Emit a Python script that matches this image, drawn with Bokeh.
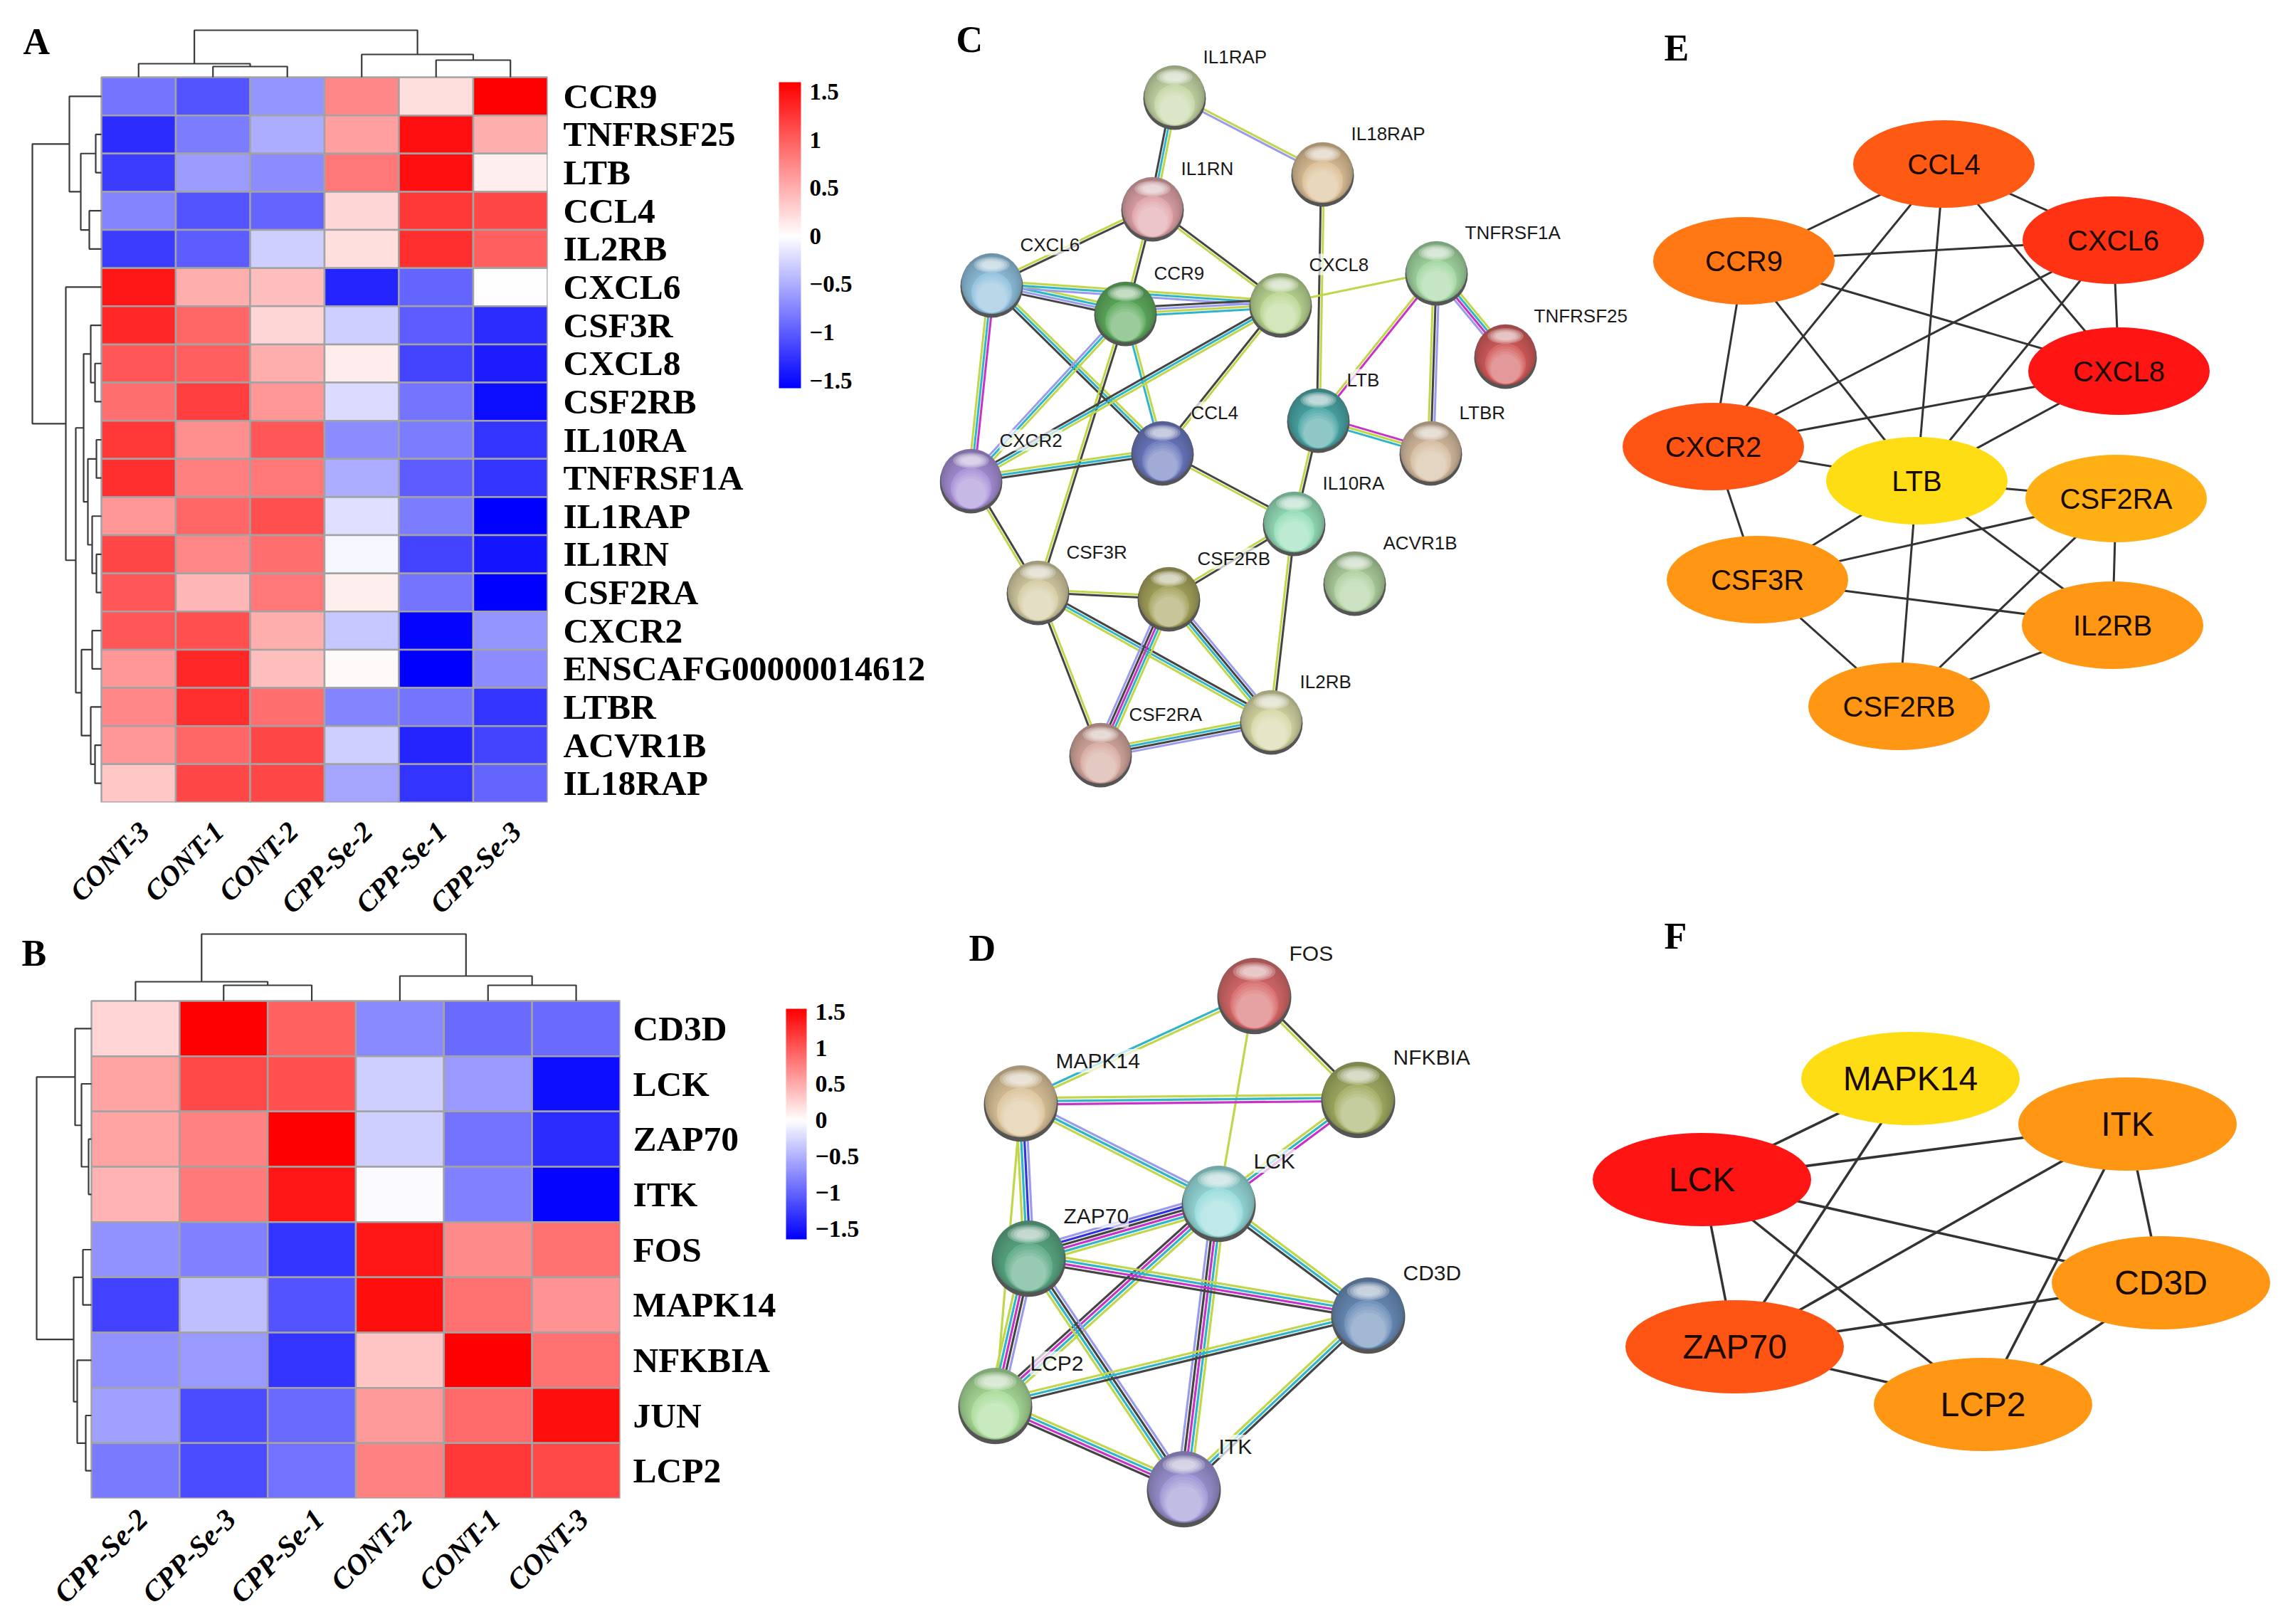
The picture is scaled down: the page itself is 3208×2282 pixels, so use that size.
from bokeh.plotting import figure
from bokeh.layouts import column, row
from bokeh.models import Range1d, LinearAxis, FixedTicker, LinearColorMapper, ColorBar
from bokeh.core.properties import value
from bokeh.transform import transform
from bokeh.embed import file_html
from bokeh.resources import INLINE
import math

# ---------- Heatmap A data ----------
a_rows = ["CCR9","TNFRSF25","LTB","CCL4","IL2RB","CXCL6","CSF3R","CXCL8","CSF2RB","IL10RA","TNFRSF1A",
          "IL1RAP","IL1RN","CSF2RA","CXCR2","ENSCAFG00000014612","LTBR","ACVR1B","IL18RAP"]
a_cols = ["CONT-3","CONT-1","CONT-2","CPP-Se-2","CPP-Se-1","CPP-Se-3"]
a_vals = [
 [-0.85,-1.05,-0.65,0.75,0.2,1.6],
 [-1.3,-0.8,-0.5,0.6,1.5,0.5],
 [-1.2,-0.6,-0.7,0.85,1.5,0.1],
 [-0.75,-1.05,-0.95,0.25,1.25,1.15],
 [-1.2,-1.0,-0.3,0.2,1.3,1.0],
 [1.45,0.5,0.4,-1.35,-0.95,0.0],
 [1.35,0.95,0.25,-0.3,-1.0,-1.3],
 [1.05,1.0,0.5,0.12,-1.15,-1.4],
 [0.9,1.2,0.65,-0.22,-0.85,-1.5],
 [1.25,0.7,1.05,-0.7,-0.8,-1.25],
 [1.3,0.8,0.85,-0.5,-1.0,-1.25],
 [0.65,0.95,1.1,-0.2,-0.8,-1.6],
 [1.15,0.75,0.9,-0.05,-1.15,-1.45],
 [1.05,0.45,0.85,0.1,-0.85,-1.6],
 [1.05,1.1,0.5,-0.35,-1.55,-0.65],
 [0.65,1.35,0.4,0.03,-1.6,-0.7],
 [0.75,1.3,0.9,-0.75,-0.85,-1.25],
 [0.65,0.95,1.15,-0.3,-1.35,-1.15],
 [0.35,1.15,1.15,-0.55,-1.25,-0.95],
]
# merge trees: (height, left, right); leaves are row/column indices
a_row_tree = (97,
  (45, 0, (29, (8, 1, 2), (17, 3, 4))),
  (50, 5, (36,
     (25, (15, 6, (9, 7, 8)), (19, (7, 9, 10), (13, 11, (7, 12, 13)))),
     (28, (13, 14, 15), (15, 16, (9, 17, 18))))))
a_col_tree = (66, (19, 0, (15, 1, 2)), (32, 3, (24, 4, 5)))

# ---------- Heatmap B data ----------
b_rows = ["CD3D","LCK","ZAP70","ITK","FOS","MAPK14","NFKBIA","JUN","LCP2"]
b_cols = ["CPP-Se-2","CPP-Se-3","CPP-Se-1","CONT-2","CONT-1","CONT-3"]
b_vals = [
 [0.25,1.6,0.95,-0.75,-0.95,-0.95],
 [0.55,1.1,1.05,-0.3,-0.65,-1.55],
 [0.55,0.75,1.55,-0.3,-0.9,-1.35],
 [0.45,0.8,1.4,-0.03,-0.8,-1.6],
 [-0.7,-0.8,-1.3,1.4,0.7,0.85],
 [-1.2,-0.4,-1.1,1.45,0.85,0.65],
 [-0.7,-0.65,-1.3,0.35,1.6,0.85],
 [-0.6,-1.15,-0.95,0.6,0.9,1.45],
 [-0.85,-1.15,-0.9,0.75,1.2,1.1],
]
b_row_tree = (77, (23, 0, (14, 1, (4, 2, 3))),
              (25, (12, 4, 5), (20, 6, (8, 7, 8))))
b_col_tree = (94, (27, 0, (22, 1, 2)), (35, 3, (22, 4, 5)))

cbar_ticks = [-1.5,-1,-0.5,0,0.5,1,1.5]
cbar_labels = ["\u22121.5","\u22121","\u22120.5","0","0.5","1","1.5"]

# ---------- Network C ----------
c_names = ["IL1RAP","IL18RAP","IL1RN","CXCL6","CCR9","CXCL8","TNFRSF1A","TNFRSF25","LTB","LTBR","CCL4","CXCR2",
           "IL10RA","ACVR1B","CSF3R","CSF2RB","IL2RB","CSF2RA"]
c_x = [1650,1858,1619,1393,1581,1799,2018,2115,1852,2010,1633,1364,1818,1903,1458,1642,1786,1546]
c_y = [134,242,291,398,438,426,381,498,588,634,634,673,733,817,830,839,1012,1058]
c_col = ["#c5d6a5","#dcbf96","#dfa3a8","#8fc0dd","#5eab5e","#bad792","#a2d6a0","#d25c5c","#4ba6a6","#d4bb9e",
         "#6a78bd","#a68fd6","#94deb8","#aed09d","#d4cba2","#a5a35c","#d6d8a5","#d5a89d"]
c_edges = [("IL1RAP","IL18RAP","yp"),("IL1RAP","IL1RN","yck"),("IL1RN","CXCL6","ky"),("IL1RN","CCR9","ky"),
 ("IL1RN","CXCL8","ky"),("IL18RAP","LTB","yk"),("CXCL6","CCR9","ycpk"),("CXCL6","CXCL8","ycp"),("CCR9","CXCL8","kpyc"),
 ("CXCL6","CXCR2","mcy"),("CXCL6","CCL4","yck"),("CCR9","CCL4","yc"),("CCR9","CXCR2","ycp"),("CCR9","CSF3R","ky"),
 ("CXCL8","CXCR2","yck"),("CXCL8","CCL4","yk"),("CXCL8","TNFRSF1A","y"),("TNFRSF1A","TNFRSF25","ycmp"),
 ("TNFRSF1A","LTB","my"),("TNFRSF1A","LTBR","pky"),("LTB","LTBR","myc"),("LTB","IL10RA","ky"),("CCL4","CXCR2","kcy"),
 ("CCL4","IL10RA","ky"),("CXCR2","CSF3R","ky"),("IL10RA","CSF2RB","ky"),("IL10RA","IL2RB","ky"),("CSF3R","CSF2RB","yk"),
 ("CSF3R","CSF2RA","yk"),("CSF3R","IL2RB","kcy"),("CSF2RB","CSF2RA","ycmkp"),("CSF2RB","IL2RB","pkcy"),("CSF2RA","IL2RB","yckp")]

# ---------- Network D ----------
d_names = ["FOS","MAPK14","NFKBIA","LCK","ZAP70","CD3D","LCP2","ITK"]
d_x = [1762,1434,1908,1712,1445,1922,1398,1663]
d_y = [1396,1547,1542,1688,1765,1845,1972,2089]
d_col = ["#d86a6a","#dcc49a","#a3ad62","#98dcdc","#5aa884","#6a8cb8","#a8dc98","#9c94d4"]
d_edges = [("FOS","MAPK14","yc"),("FOS","NFKBIA","ky"),("FOS","LCK","y"),("MAPK14","NFKBIA","ycm"),("MAPK14","LCK","pcy"),
 ("MAPK14","ZAP70","pbcy"),("MAPK14","LCP2","y"),("NFKBIA","LCK","mcy"),("LCK","ZAP70","ycmkbp"),("LCK","CD3D","yck"),
 ("LCK","LCP2","ycmk"),("LCK","ITK","ycmkp"),("ZAP70","CD3D","ycmk"),("ZAP70","LCP2","pkmcy"),("ZAP70","ITK","pkcy"),
 ("LCP2","CD3D","yck"),("LCP2","ITK","ycmk"),("CD3D","ITK","kcy")]

# ---------- Network E ----------
e_names = ["CCL4","CXCL6","CCR9","CXCL8","CXCR2","LTB","CSF2RA","CSF3R","IL2RB","CSF2RB"]
e_x = [2731,2969,2450,2977,2407,2693,2973,2469,2968,2668]
e_y = [230,337,366,521,627,675,700,814,878,992]
e_col = ["#ff5a14","#ff3214","#ff7814","#ff1414","#ff5514","#ffdd14","#ffb014","#ff9614","#ff9614","#ff9614"]
e_edges = [("CCL4","CCR9"),("CCL4","CXCL6"),("CCL4","CXCR2"),("CCL4","LTB"),("CCL4","CXCL8"),("CCR9","CXCL6"),("CCR9","CXCL8"),
 ("CCR9","CXCR2"),("CCR9","LTB"),("CXCL6","CXCL8"),("CXCL6","CXCR2"),("CXCL6","LTB"),("CXCL8","CXCR2"),("CXCL8","LTB"),
 ("CXCR2","LTB"),("CXCR2","CSF3R"),("LTB","CSF2RA"),("LTB","CSF3R"),("LTB","CSF2RB"),("LTB","IL2RB"),("CSF2RA","CSF3R"),
 ("CSF2RA","IL2RB"),("CSF2RA","CSF2RB"),("CSF3R","IL2RB"),("CSF3R","CSF2RB"),("IL2RB","CSF2RB")]

# ---------- Network F ----------
f_names = ["MAPK14","ITK","LCK","CD3D","ZAP70","LCP2"]
f_x = [2684,2989,2391,3036,2437,2786]
f_y = [1515,1579,1657,1802,1892,1973]
f_col = ["#ffdd14","#ff9614","#ff1414","#ff9614","#ff5514","#ff9614"]
f_edges = [("MAPK14","LCK"),("MAPK14","ZAP70"),("ITK","LCK"),("ITK","ZAP70"),("ITK","LCP2"),("ITK","CD3D"),("LCK","CD3D"),
 ("LCK","ZAP70"),("LCK","LCP2"),("CD3D","ZAP70"),("CD3D","LCP2"),("ZAP70","LCP2")]

EDGE = dict(y="#c2d64a", k="#444444", c="#2eb5c9", m="#c832c8", p="#9b9bee", b="#3333dd")
SERIF = "Liberation Serif"
SANS = "Liberation Sans"
SPLIT_Y = 1290
LEFT_SPLIT = 1317
LEFT_OVERLAP = 10
TOTAL_W = 3208
TOTAL_H = 2282


def make_palette(low, high):
    """blue - white - red, with white exactly at zero."""
    out = []
    for i in range(256):
        v = low + (high - low) * i / 255
        if v < 0:
            k = int(255 * (1 - v / low))
            out.append("#%02x%02x%02x" % (k, k, 255))
        else:
            k = int(255 * (1 - v / high))
            out.append("#%02x%02x%02x" % (255, k, k))
    return out


def hex2rgb(h):
    return tuple(int(h[i:i+2], 16) for i in (1, 3, 5))


def mix(h, target, t):
    r = hex2rgb(h); g = hex2rgb(target)
    return "#%02x%02x%02x" % tuple(int(a + (b - a) * t) for a, b in zip(r, g))


def tree_layout(node, segs):
    """returns (position, height) of a merge tree; appends its three segments."""
    if isinstance(node, int):
        return node, 0
    h, l, r = node
    pl, hl = tree_layout(l, segs)
    pr, hr = tree_layout(r, segs)
    segs.append(((pl, hl), (pl, h), (pr, h), (pr, hr)))
    return (pl + pr) / 2, h


def heatmap(rows, cols, vals, row_tree, col_tree, page_box, heat_box, letter_txt, letter_xy, cbar_box,
            cbar_range, cbar_label_size, standoff, col_font, row_standoff, margin=None):
    left, top, right, bottom = page_box
    hl, ht, hr, hb = heat_box
    nr, nc = len(rows), len(cols)
    cw = (hr - hl) / nc
    ch = (hb - ht) / nr
    fw, fh = hr - left, hb - top
    fig = figure(width=right - left, height=bottom - top, output_backend="svg", toolbar_location=None,
                 x_range=Range1d(-0.5 - (hl - left) / cw, nc - 0.5),
                 y_range=Range1d(-0.5, nr - 0.5 + (ht - top) / ch),
                 min_border_left=0, min_border_top=0, min_border_right=right - hr, min_border_bottom=bottom - hb,
                 frame_width=fw, frame_height=fh, outline_line_color=None, x_axis_location=None, y_axis_location=None,
                 frame_align=False, border_fill_alpha=0, background_fill_alpha=0)
    if margin is not None:
        fig.margin = margin
    fig.xgrid.visible = False
    fig.ygrid.visible = False
    mapper = LinearColorMapper(palette=make_palette(*cbar_range), low=cbar_range[0], high=cbar_range[1])
    xs, ys, vs = [], [], []
    for r, rv in enumerate(vals):
        for c, v in enumerate(rv):
            xs.append(c); ys.append(nr - 1 - r); vs.append(v)
    fig.rect(x="x", y="y", width=1, height=1, source=dict(x=xs, y=ys, v=vs),
             fill_color=transform("v", mapper), line_color="#a3a3a3", line_width=2.5)

    # dendrograms
    segs = []
    tree_layout(row_tree, segs)
    dx, dy = [], []
    for s in segs:
        dx.append([-0.5 - p[1] / cw for p in s])
        dy.append([nr - 1 - p[0] for p in s])
    segs = []
    tree_layout(col_tree, segs)
    for s in segs:
        dx.append([p[0] for p in s])
        dy.append([nr - 0.5 + p[1] / ch for p in s])
    fig.multi_line(dx, dy, line_color="#3a3a3a", line_width=2.2)

    fig.text([-0.5 - (hl - letter_xy[0]) / cw], [nr - 0.5 + (ht - letter_xy[1]) / ch], text=[letter_txt],
             text_font=value(SERIF), text_font_style="bold", text_font_size="52px",
             text_align="left", text_baseline="middle", text_color="#000000")

    ax_r = LinearAxis(ticker=FixedTicker(ticks=list(range(nr))),
                      major_label_overrides={nr - 1 - i: n for i, n in enumerate(rows)},
                      major_label_text_font=SERIF, major_label_text_font_style="bold",
                      major_label_text_font_size="49.5px", major_label_text_color="#000000",
                      major_tick_line_color=None, minor_tick_line_color=None, axis_line_color=None,
                      major_tick_in=0, major_tick_out=0, major_label_standoff=row_standoff)
    fig.add_layout(ax_r, "right")
    col_ticks = [i + 0.08 for i in range(nc)]
    ax_b = LinearAxis(ticker=FixedTicker(ticks=col_ticks),
                      major_label_overrides={t: n for t, n in zip(col_ticks, cols)},
                      major_label_text_font=SERIF, major_label_text_font_style="bold italic",
                      major_label_text_font_size=col_font, major_label_text_color="#000000",
                      major_label_orientation=math.pi / 4,
                      major_tick_line_color=None, minor_tick_line_color=None, axis_line_color=None,
                      major_tick_in=0, major_tick_out=0, major_label_standoff=standoff)
    fig.add_layout(ax_b, "below")

    cb_l, cb_t, cb_r, cb_b = cbar_box
    cb = ColorBar(color_mapper=mapper, width=cb_r - cb_l, height=cb_b - cb_t,
                  location=(cb_l - left, hb - cb_b),
                  ticker=FixedTicker(ticks=cbar_ticks),
                  major_label_overrides={t: l for t, l in zip(cbar_ticks, cbar_labels)},
                  major_label_text_font=SERIF, major_label_text_font_style="bold",
                  major_label_text_font_size=cbar_label_size, major_label_text_color="#000000",
                  major_tick_line_color=None, minor_tick_line_color=None, bar_line_color=None,
                  background_fill_alpha=0, border_line_color=None, padding=0, label_standoff=12, margin=0)
    fig.add_layout(cb, "center")
    return fig


def panel(box):
    l, t, r, b = box
    fig = figure(width=r - l, height=b - t, output_backend="svg", toolbar_location=None,
                 x_range=Range1d(l, r), y_range=Range1d(b, t), min_border=0, outline_line_color=None,
                 frame_align=False)
    fig.xgrid.visible = False
    fig.ygrid.visible = False
    fig.axis.visible = False
    return fig


def letter(fig, txt, x, y):
    fig.text([x], [y], text=[txt], text_font=value(SERIF), text_font_style="bold", text_font_size="52px",
             text_align="left", text_baseline="middle", text_color="#000000")


def string_net(fig, names, xs, ys, cols, edges, radius, spacing, lw, font, off, let, let_xy):
    pos = {n: (x, y) for n, x, y in zip(names, xs, ys)}
    lx, ly, lc = [], [], []
    for a, b, code in edges:
        (x0, y0), (x1, y1) = pos[a], pos[b]
        ln = math.hypot(x1 - x0, y1 - y0)
        nx, ny = -(y1 - y0) / ln, (x1 - x0) / ln
        for i, ch_ in enumerate(code):
            o = (i - (len(code) - 1) / 2) * spacing
            lx.append([x0 + nx * o, x1 + nx * o]); ly.append([y0 + ny * o, y1 + ny * o]); lc.append(EDGE[ch_])
    fig.multi_line("x", "y", source=dict(x=lx, y=ly, c=lc), line_color="c", line_width=lw)

    for x, y, c in zip(xs, ys, cols):
        fig.ellipse([x], [y + radius * 0.09], width=radius * 2, height=radius * 2, fill_color="#555555", line_color=None)
        n = 12
        for i in range(n):
            t = i / (n - 1)
            col = mix(c, "#202020", 0.28) if t == 0 else (mix(c, "#000000", 0.22 * (1 - t) ** 1.5) if t < .55 else mix(c, "#ffffff", 0.38 * (t - .55) / .45))
            rr = radius * (0.97 - 0.5 * t)
            fig.ellipse([x], [y + radius * 0.45 * t], width=rr * 2, height=rr * 2, fill_color=col, line_color=None)
        for k in range(4):
            w = radius * (1.15 - 0.17 * k)
            h = radius * (0.5 - 0.08 * k)
            fig.ellipse([x], [y - radius * 0.6], width=w, height=h, fill_color="#ffffff", fill_alpha=0.24, line_color=None)

    fig.text([x + off[0] for x in xs], [y + off[1] for y in ys], text=names, text_font=value(SANS),
             text_font_size=font, text_align="left", text_baseline="middle", text_color="#1a1a1a",
             background_fill_color="#ffffff", background_fill_alpha=0.7)
    letter(fig, let, *let_xy)


def ellipse_net(fig, names, xs, ys, cols, edges, w, h, font, lw, let, let_xy):
    pos = {n: (x, y) for n, x, y in zip(names, xs, ys)}
    fig.multi_line([[pos[a][0], pos[b][0]] for a, b in edges], [[pos[a][1], pos[b][1]] for a, b in edges],
                   line_color="#333333", line_width=lw)
    fig.ellipse(xs, ys, width=w, height=h, fill_color=cols, line_color=None)
    fig.text(xs, ys, text=names, text_font=value(SANS), text_font_size=font, text_align="center",
             text_baseline="middle", text_color="#1a0a00")
    letter(fig, let, *let_xy)


pA = heatmap(a_rows, a_cols, a_vals, a_row_tree, a_col_tree, (0, 0, 1320, LEFT_SPLIT), (142, 108, 769, 1127),
             "A", (32, 58), (1094, 115, 1125, 545), (-1.58, 1.6), "33px", 34, "40px", 22)
pB = heatmap(b_rows, b_cols, b_vals, b_row_tree, b_col_tree, (0, LEFT_SPLIT - LEFT_OVERLAP, 1320, TOTAL_H),
             (128, 1406, 871, 2105), "B", (30, 1339), (1104, 1417, 1133, 1741), (-1.64, 1.54), "34px", 22, "41px", 18,
             margin=(-LEFT_OVERLAP, 0, 0, 0))

pTop = panel((1320, 0, TOTAL_W, SPLIT_Y))
string_net(pTop, c_names, c_x, c_y, c_col, c_edges, 44, 4.0, 3.0, "26px", (40, -55), "C", (1343, 55))
ellipse_net(pTop, e_names, e_x, e_y, e_col, e_edges, 255, 123, "40px", 3, "E", (2338, 67))
pBot = panel((1320, SPLIT_Y, TOTAL_W, TOTAL_H))
string_net(pBot, d_names, d_x, d_y, d_col, d_edges, 52, 4.6, 3.2, "30px", (49, -57), "D", (1361, 1332))
ellipse_net(pBot, f_names, f_x, f_y, f_col, f_edges, 307, 131, "48px", 3.5, "F", (2338, 1315))

page = row(column(pA, pB, spacing=0), column(pTop, pBot, spacing=0), spacing=0)
open("out.html", "w").write(file_html(page, INLINE))
